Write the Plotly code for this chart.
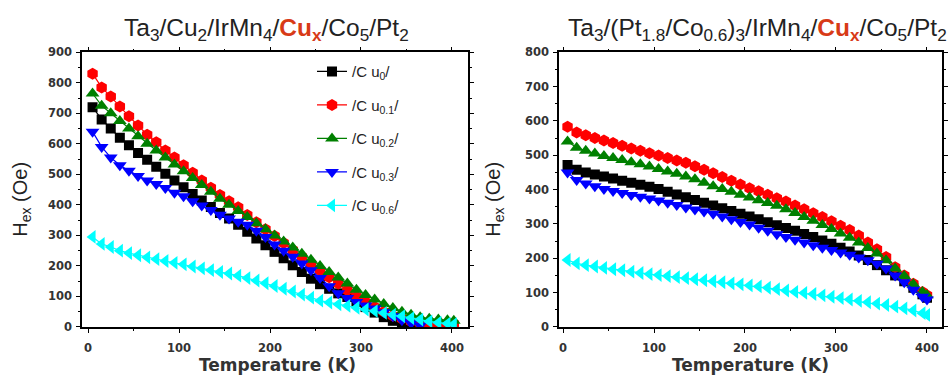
import plotly.graph_objects as go

# ---------------- data ----------------
T_left = [5, 15, 25, 35, 45, 55, 65, 75, 85, 95, 105, 115, 125, 135, 145, 155, 165, 175, 185, 195,
          205, 215, 225, 235, 245, 255, 265, 275, 285, 295, 305, 315, 325, 335, 345, 355, 365, 375, 385, 395, 402]

L_cu0 = [720, 680, 650, 620, 595, 570, 548, 525, 502, 480, 458, 436, 414, 393, 373, 355, 335, 312, 290, 268,
         246, 225, 202, 180, 158, 140, 125, 110, 98, 82, 65, 47, 32, 20, 10, 4]
L_cu01 = [830, 785, 755, 722, 690, 660, 630, 605, 578, 555, 530, 505, 480, 456, 432, 412, 392, 367, 343, 320,
          298, 275, 252, 230, 208, 185, 163, 142, 120, 100, 82, 65, 50, 37, 27, 18, 12, 10, 10, 10, 10]
L_cu02 = [765, 725, 700, 675, 650, 625, 600, 578, 555, 532, 510, 488, 465, 443, 420, 400, 380, 360, 340, 320,
          300, 280, 260, 240, 220, 200, 180, 162, 142, 122, 105, 90, 75, 62, 50, 40, 32, 27, 24, 22, 20]
L_cu03 = [640, 590, 555, 530, 512, 495, 480, 468, 455, 440, 428, 412, 398, 383, 368, 355, 345, 335, 315, 295,
          270, 250, 230, 208, 186, 160, 133, 110, 95, 82, 70, 60, 48, 35, 22, 12, 5]
L_cu06 = [295, 272, 262, 250, 242, 235, 228, 222, 216, 210, 205, 198, 192, 186, 180, 175, 168, 160, 152, 143,
          134, 125, 116, 106, 96, 86, 80, 74, 69, 63, 57, 52, 46, 40, 35, 29, 24, 18, 14, 11, 9]

T_right = [5, 15, 25, 35, 45, 55, 65, 75, 85, 95, 105, 115, 125, 135, 145, 155, 165, 175, 185, 195,
           205, 215, 225, 235, 245, 255, 265, 275, 285, 295, 305, 315, 325, 335, 345, 355, 365, 375, 385, 395, 400]

R_cu0 = [472, 458, 450, 444, 438, 432, 426, 420, 414, 408, 402, 394, 386, 378, 370, 362, 354, 346, 338, 330,
         322, 314, 305, 296, 288, 280, 271, 262, 252, 242, 231, 220, 208, 195, 180, 165, 150, 133, 114, 95, 85]
R_cu01 = [583, 566, 558, 550, 543, 536, 528, 520, 513, 506, 499, 492, 485, 478, 468, 458, 448, 437, 426, 415,
          404, 395, 385, 375, 365, 354, 343, 331, 320, 308, 295, 282, 266, 246, 226, 204, 174, 150, 126, 102, 92]
R_cu02 = [540, 522, 513, 505, 498, 492, 486, 480, 474, 467, 460, 453, 446, 438, 430, 420, 410, 402, 394, 385,
          377, 369, 361, 353, 343, 332, 320, 309, 297, 285, 272, 260, 246, 230, 214, 194, 170, 148, 124, 102, 92]
R_cu03 = [450, 428, 418, 410, 402, 396, 390, 384, 379, 374, 368, 362, 355, 348, 342, 336, 330, 322, 314, 306,
          298, 289, 280, 270, 262, 254, 246, 238, 231, 224, 217, 210, 202, 194, 184, 170, 150, 130, 108, 88, 80]
R_cu06 = [195, 185, 180, 176, 172, 168, 165, 161, 157, 154, 151, 148, 145, 142, 139, 136, 133, 130, 127, 124,
          121, 118, 114, 110, 106, 102, 99, 96, 92, 88, 84, 80, 76, 72, 68, 64, 59, 54, 48, 40, 35]

series_names = ["/C u<sub>0</sub>/", "/C u<sub>0.1</sub>/", "/C u<sub>0.2</sub>/",
                "/C u<sub>0.3</sub>/", "/C u<sub>0.6</sub>/"]
series_colors = ["#000000", "#ff0000", "#008000", "#0000ff", "#00ffff"]
series_symbols = ["square", "hexagon", "triangle-up", "triangle-down", "triangle-left"]
series_sizes = [10, 12, 12, 12, 12]

left_data = [L_cu0, L_cu01, L_cu02, L_cu03, L_cu06]
right_data = [R_cu0, R_cu01, R_cu02, R_cu03, R_cu06]

title_left = ("Ta<sub>3</sub>/Cu<sub>2</sub>/IrMn<sub>4</sub>/"
              "<b><span style='color:#d83a17'>Cu<sub>x</sub></span></b>/Co<sub>5</sub>/Pt<sub>2</sub>")
title_right = ("Ta<sub>3</sub>/(Pt<sub>1.8</sub>/Co<sub>0.6</sub>)<sub>3</sub>/IrMn<sub>4</sub>/"
               "<b><span style='color:#d83a17'>Cu<sub>x</sub></span></b>/Co<sub>5</sub>/Pt<sub>2</sub>")

# ---------------- figure ----------------
fig = go.Figure()

for i in range(5):
    ys = left_data[i]
    fig.add_trace(go.Scatter(
        x=T_left[:len(ys)], y=ys, mode="lines+markers", name=series_names[i],
        line=dict(color=series_colors[i], width=1.2),
        marker=dict(symbol=series_symbols[i], size=series_sizes[i], color=series_colors[i]),
        legendgroup=f"g{i}", xaxis="x", yaxis="y"))

for i in range(5):
    ys = right_data[i]
    fig.add_trace(go.Scatter(
        x=T_right[:len(ys)], y=ys, mode="lines+markers", name=series_names[i],
        line=dict(color=series_colors[i], width=1.2),
        marker=dict(symbol=series_symbols[i], size=series_sizes[i], color=series_colors[i]),
        showlegend=False, xaxis="x2", yaxis="y2"))

W, H = 952, 385
tickfont = dict(family="DejaVu Sans", size=11.5, color="#333333", weight="bold")

def axis(domain, rng, anchor, standoff):
    return dict(domain=domain, range=rng, anchor=anchor, showgrid=False, zeroline=False,
                tickmode="linear", tick0=0, dtick=100, ticks="outside", ticklen=4,
                tickcolor="#000", linecolor="#000", linewidth=1.5, mirror="allticks",
                showline=True, tickfont=tickfont, ticklabelstandoff=standoff,
                minor=dict(dtick=50, ticks="outside", ticklen=2, tickcolor="#000"))

ydom = [(H - 332) / H, (H - 47) / H]
fig.update_layout(
    width=W, height=H, margin=dict(l=0, r=0, t=0, b=0),
    paper_bgcolor="white", plot_bgcolor="white",
    font=dict(family="Liberation Sans, Arial", color="#222222"),
    xaxis=axis([82 / W, 468 / W], [-6.6, 417.6], "y", 6),
    yaxis=axis(ydom, [0, 900], "x", 2),
    xaxis2=axis([559 / W, 942 / W], [-4.4, 416.5], "y2", 6),
    yaxis2=axis(ydom, [0, 800], "x2", 2),
    showlegend=True,
    legend=dict(x=312 / W, y=1 - 50 / H, xanchor="left", yanchor="top",
                bgcolor="rgba(0,0,0,0)", traceorder="grouped", tracegroupgap=11,
                font=dict(family="Liberation Sans, Arial", size=15, color="#222222")),
)

ann = []
ann.append(dict(text=title_left, x=266 / W, y=1 - 23 / H, xref="paper", yref="paper",
                xanchor="center", yanchor="middle",
                showarrow=False, font=dict(size=24.5, color="#222222")))
ann.append(dict(text=title_right, x=757 / W, y=1 - 23 / H, xref="paper", yref="paper",
                xanchor="center", yanchor="middle",
                showarrow=False, font=dict(size=24.5, color="#222222")))
for xp in (22, 495):
    ann.append(dict(text="H<sub>ex</sub> (Oe)", x=xp / W, y=1 - 200 / H, xref="paper", yref="paper",
                    xanchor="center", yanchor="middle",
                    showarrow=False, textangle=-90, font=dict(size=20, color="#222222")))
for xp in (277, 750):
    ann.append(dict(text="Temperature (K)", x=xp / W, y=1 - 372 / H, xref="paper", yref="paper",
                    xanchor="center", yanchor="middle",
                    showarrow=False, font=dict(family="DejaVu Sans", size=17, color="#333333", weight="bold")))
fig.update_layout(annotations=ann)

fig.write_html("out.html")
